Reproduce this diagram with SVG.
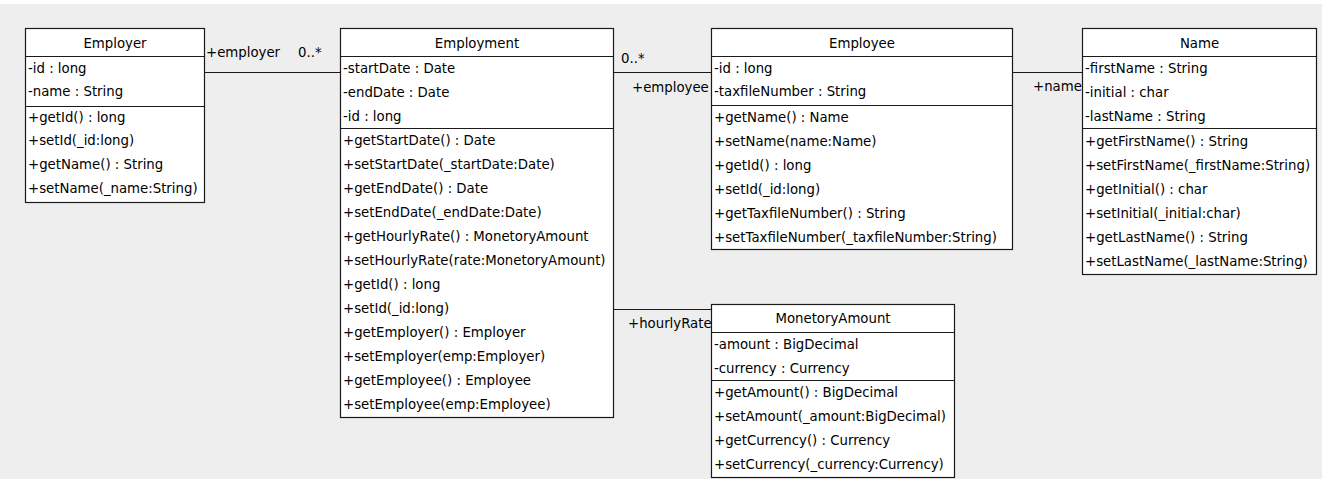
<svg xmlns="http://www.w3.org/2000/svg" width="1322" height="479" viewBox="0 0 1322 479">
<style>
.box{fill:#fff;stroke:#1a1a1a;stroke-width:1.2}
.div{stroke:#1a1a1a;stroke-width:1.2}
.con{stroke:#1a1a1a;stroke-width:1.2;fill:none}
text{font-family:"DejaVu Sans","Liberation Sans",sans-serif;font-size:13.3px;fill:#000}
.h{text-anchor:middle}
</style>
<rect x="0" y="0" width="1322" height="479" fill="#ffffff"/>
<rect x="0" y="4" width="1322" height="475" fill="#eeeeee"/>
<g id="connectors">
<line class="con" x1="204.5" y1="72.5" x2="340.5" y2="72.5"/>
<text x="206" y="57">+employer</text>
<text x="298" y="57">0..*</text>
<line class="con" x1="613.5" y1="72.5" x2="711.5" y2="72.5"/>
<text x="621" y="63">0..*</text>
<text x="632" y="92">+employee</text>
<line class="con" x1="1012.5" y1="72.5" x2="1082.5" y2="72.5"/>
<text x="1033" y="91">+name</text>
<line class="con" x1="613.5" y1="309.5" x2="711.5" y2="309.5"/>
<text x="628" y="328">+hourlyRate</text>
</g>
<g id="employer">
<rect class="box" x="25.5" y="28.5" width="179" height="174"/>
<line class="div" x1="25.5" y1="56.5" x2="204.5" y2="56.5"/>
<line class="div" x1="25.5" y1="106.5" x2="204.5" y2="106.5"/>
<text class="h" x="115" y="48">Employer</text>
<text x="28" y="73">-id : long</text>
<text x="28" y="96">-name : String</text>
<text x="28" y="122">+getId() : long</text>
<text x="28" y="145">+setId(_id:long)</text>
<text x="28" y="169">+getName() : String</text>
<text x="28" y="193">+setName(_name:String)</text>
</g>
<g id="employment">
<rect class="box" x="340.5" y="28.5" width="273" height="389"/>
<line class="div" x1="340.5" y1="56.5" x2="613.5" y2="56.5"/>
<line class="div" x1="340.5" y1="128.5" x2="613.5" y2="128.5"/>
<text class="h" x="477" y="48">Employment</text>
<text x="343" y="73">-startDate : Date</text>
<text x="343" y="97">-endDate : Date</text>
<text x="343" y="121">-id : long</text>
<text x="343" y="145">+getStartDate() : Date</text>
<text x="343" y="169">+setStartDate(_startDate:Date)</text>
<text x="343" y="193">+getEndDate() : Date</text>
<text x="343" y="217">+setEndDate(_endDate:Date)</text>
<text x="343" y="241">+getHourlyRate() : MonetoryAmount</text>
<text x="343" y="265">+setHourlyRate(rate:MonetoryAmount)</text>
<text x="343" y="289">+getId() : long</text>
<text x="343" y="313">+setId(_id:long)</text>
<text x="343" y="337">+getEmployer() : Employer</text>
<text x="343" y="361">+setEmployer(emp:Employer)</text>
<text x="343" y="385">+getEmployee() : Employee</text>
<text x="343" y="409">+setEmployee(emp:Employee)</text>
</g>
<g id="employee">
<rect class="box" x="711.5" y="28.5" width="301" height="221"/>
<line class="div" x1="711.5" y1="56.5" x2="1012.5" y2="56.5"/>
<line class="div" x1="711.5" y1="105.5" x2="1012.5" y2="105.5"/>
<text class="h" x="862" y="48">Employee</text>
<text x="714" y="73">-id : long</text>
<text x="714" y="96">-taxfileNumber : String</text>
<text x="714" y="122">+getName() : Name</text>
<text x="714" y="146">+setName(name:Name)</text>
<text x="714" y="170">+getId() : long</text>
<text x="714" y="194">+setId(_id:long)</text>
<text x="714" y="218">+getTaxfileNumber() : String</text>
<text x="714" y="242">+setTaxfileNumber(_taxfileNumber:String)</text>
</g>
<g id="name">
<rect class="box" x="1082.5" y="28.5" width="234" height="246"/>
<line class="div" x1="1082.5" y1="56.5" x2="1316.5" y2="56.5"/>
<line class="div" x1="1082.5" y1="128.5" x2="1316.5" y2="128.5"/>
<text class="h" x="1199.5" y="48">Name</text>
<text x="1085" y="73">-firstName : String</text>
<text x="1085" y="97">-initial : char</text>
<text x="1085" y="121">-lastName : String</text>
<text x="1085" y="146">+getFirstName() : String</text>
<text x="1085" y="170">+setFirstName(_firstName:String)</text>
<text x="1085" y="194">+getInitial() : char</text>
<text x="1085" y="218">+setInitial(_initial:char)</text>
<text x="1085" y="242">+getLastName() : String</text>
<text x="1085" y="266">+setLastName(_lastName:String)</text>
</g>
<g id="monetoryamount">
<rect class="box" x="711.5" y="304.5" width="243" height="173"/>
<line class="div" x1="711.5" y1="332.5" x2="954.5" y2="332.5"/>
<line class="div" x1="711.5" y1="380.5" x2="954.5" y2="380.5"/>
<text class="h" x="833" y="323">MonetoryAmount</text>
<text x="714" y="349">-amount : BigDecimal</text>
<text x="714" y="373">-currency : Currency</text>
<text x="714" y="397">+getAmount() : BigDecimal</text>
<text x="714" y="421">+setAmount(_amount:BigDecimal)</text>
<text x="714" y="445">+getCurrency() : Currency</text>
<text x="714" y="469">+setCurrency(_currency:Currency)</text>
</g>
</svg>
